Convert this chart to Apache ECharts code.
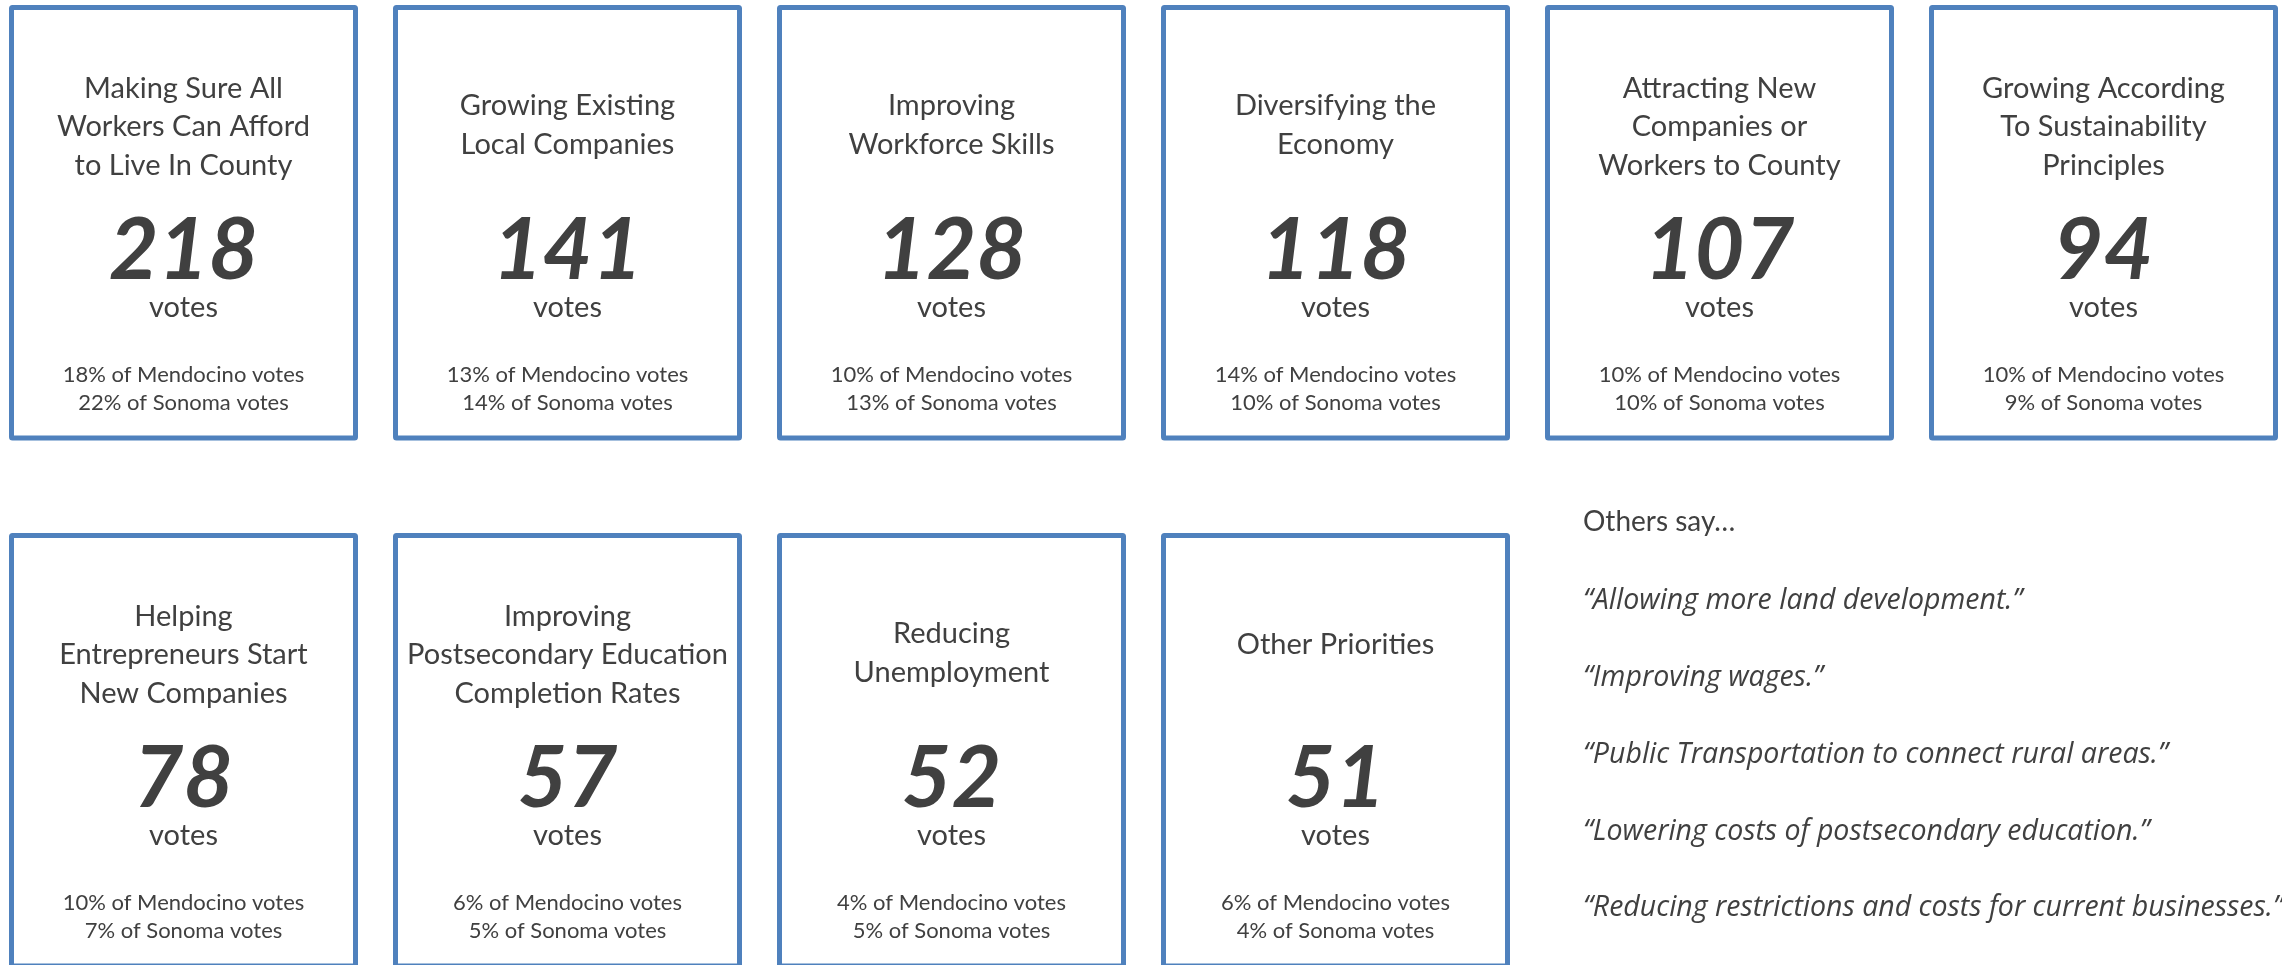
<!DOCTYPE html>
<html>
<head>
<meta charset="utf-8">
<title>Economic priorities - votes</title>
<script src="https://cdn.jsdelivr.net/npm/echarts@6/dist/echarts.min.js"></script>
<style>
  html, body { margin: 0; padding: 0; background: #ffffff; }
  #chart { width: 2282px; height: 965px; }
</style>
</head>
<body>
<div id="chart"></div>
<script>
// priorities, in the order they appear (left to right, top to bottom)
const priorities = [
  'Making Sure All\nWorkers Can Afford\nto Live In County',
  'Growing Existing\nLocal Companies',
  'Improving\nWorkforce Skills',
  'Diversifying the\nEconomy',
  'Attracting New\nCompanies or\nWorkers to County',
  'Growing According\nTo Sustainability\nPrinciples',
  'Helping\nEntrepreneurs Start\nNew Companies',
  'Improving\nPostsecondary Education\nCompletion Rates',
  'Reducing\nUnemployment',
  'Other Priorities'
]
const votes = [218, 141, 128, 118, 107, 94, 78, 57, 52, 51]
const mendocinoPct = [18, 13, 10, 14, 10, 10, 10, 6, 4, 6]
const sonomaPct = [22, 14, 13, 10, 10, 9, 7, 5, 5, 4]

const othersTitle = 'Others say…'
const otherComments = [
  '“Allowing more land development.”',
  '“Improving wages.”',
  '“Public Transportation to connect rural areas.”',
  '“Lowering costs of postsecondary education.”',
  '“Reducing restrictions and costs for current businesses.”'
]

const COLS = 6
const TEXT = '#404040'
const BLUE = '#4f81bd'
const FONT = 'Lato, "Open Sans", sans-serif'
const QUOTE_FONT = '"Open Sans", Lato, sans-serif'

// card grid position: [column, row, index]
const cardData = votes.map((v, i) => [i % COLS, Math.floor(i / COLS), i])

// title block vertical centre (from card top) by line count
const titleMid = [112, 120, 122]

function renderCard(params, api) {
  const i = api.value(2)
  const c = api.coord([api.value(0), api.value(1)])
  const top = c[1] - 217
  const title = priorities[i]
  const lines = title.split('\n').length
  return {
    type: 'group',
    children: [
      {
        type: 'rect',
        shape: { x: c[0] - 172, y: top + 2.5, width: 344, height: 430.5, r: 1 },
        style: { fill: '#fff', stroke: BLUE, lineWidth: 5 }
      },
      {
        type: 'text',
        style: {
          text: title, x: c[0], y: top + titleMid[lines - 1],
          align: 'center', verticalAlign: 'middle',
          fontSize: 29, lineHeight: 38.5, fontFamily: FONT, fill: TEXT
        }
      },
      {
        type: 'text',
        style: {
          text: String(votes[i]), x: c[0], y: top + 246,
          align: 'center', verticalAlign: 'middle',
          fontSize: 86, fontWeight: 'bold', fontStyle: 'italic',
          fontFamily: FONT, fill: TEXT
        }
      },
      {
        type: 'text',
        style: {
          text: 'votes', x: c[0], y: top + 303,
          align: 'center', verticalAlign: 'middle',
          fontSize: 29, fontFamily: FONT, fill: TEXT
        }
      },
      {
        type: 'text',
        style: {
          text: mendocinoPct[i] + '% of Mendocino votes\n' + sonomaPct[i] + '% of Sonoma votes',
          x: c[0], y: top + 384,
          align: 'center', verticalAlign: 'middle',
          fontSize: 22, lineHeight: 27.5, fontFamily: FONT, fill: TEXT
        }
      }
    ]
  }
}

// "Others say..." column on the right
const quoteGraphics = [
  {
    type: 'text', x: 1583, y: 522,
    style: { text: othersTitle, verticalAlign: 'middle', fontSize: 28, fontFamily: FONT, fill: TEXT }
  }
].concat(otherComments.map((q, k) => ({
  type: 'text', x: 1583, y: 601 + k * 76.8,
  style: {
    text: q, verticalAlign: 'middle', fontSize: 28.5, fontStyle: 'italic',
    fontFamily: QUOTE_FONT, fill: TEXT
  }
})))

const chart = echarts.init(document.getElementById('chart'))
chart.setOption({
  backgroundColor: '#ffffff',
  animation: false,
  grid: { left: 183.5, right: 178.5, top: 222, bottom: 215 },
  xAxis: { type: 'value', min: 0, max: COLS - 1, show: false },
  yAxis: { type: 'value', min: 0, max: 1, inverse: true, show: false },
  graphic: quoteGraphics,
  series: [{
    type: 'custom',
    clip: false,
    renderItem: renderCard,
    data: cardData
  }]
})
</script>
</body>
</html>
